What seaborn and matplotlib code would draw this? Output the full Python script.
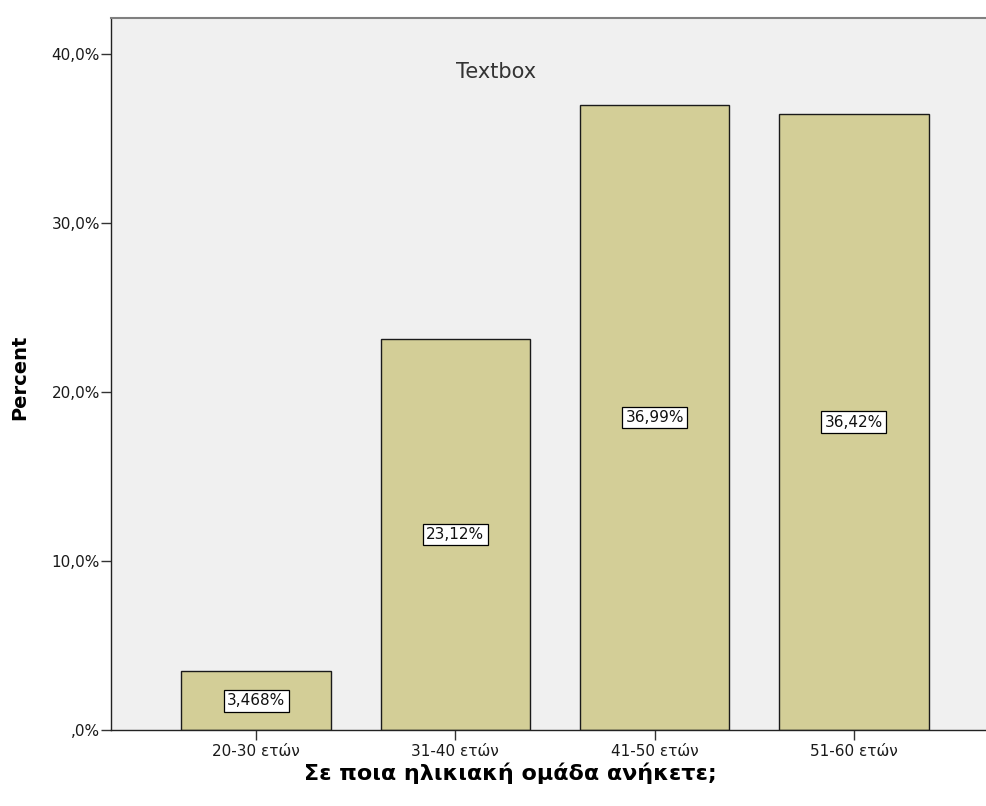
import matplotlib
matplotlib.use("Agg")
import matplotlib.pyplot as plt
import seaborn as sns
import pandas as pd

age_groups = ["20-30 ετών", "31-40 ετών", "41-50 ετών", "51-60 ετών"]
percent = [3.468, 23.12, 36.99, 36.42]
value_labels = ["3,468%", "23,12%", "36,99%", "36,42%"]
y_ticks = [0, 10, 20, 30, 40]
y_tick_labels = [",0%", "10,0%", "20,0%", "30,0%", "40,0%"]

sns.set_theme(style="white")
plt.rcParams["font.family"] = ["DejaVu Sans"]

df = pd.DataFrame({"group": age_groups, "percent": percent})

fig = plt.figure(figsize=(9.86, 8.06), dpi=100)
ax = fig.add_axes([0.1126, 0.0943, 0.8874, 0.8834])
ax.set_facecolor("#F0F0F0")

sns.barplot(data=df, x="group", y="percent", color="#D3CE97", saturation=1,
            edgecolor="#1a1a1a", linewidth=1.0, width=0.75, ax=ax)

ax.set_xlim(-0.728, 3.663)
ax.set_ylim(0, 42.13)
ax.set_yticks(y_ticks)
ax.set_yticklabels(y_tick_labels)

# value labels in white boxes at the middle of each bar
for i, (v, lab) in enumerate(zip(percent, value_labels)):
    ax.text(i, v / 2, lab, ha="center", va="center", fontsize=11, color="#111111",
            bbox=dict(boxstyle="square,pad=0.22", facecolor="white",
                      edgecolor="black", linewidth=0.9))

ax.text(1.204, 38.93, "Textbox", ha="center", va="center", fontsize=15,
        color="#333333")

for side in ["left", "bottom"]:
    ax.spines[side].set_color("#222222")
    ax.spines[side].set_linewidth(1.0)
ax.spines["top"].set_color("#808080")
ax.spines["top"].set_linewidth(1.5)
ax.spines["right"].set_visible(False)

ax.tick_params(axis="y", which="major", direction="out", length=7, width=1,
               color="#333333", labelsize=11, labelcolor="#1a1a1a", pad=1,
               left=True)
ax.tick_params(axis="x", which="major", direction="out", length=7, width=1,
               color="#333333", labelsize=11, labelcolor="#1a1a1a", pad=3,
               bottom=True)

ax.set_xlabel("Σε ποια ηλικιακή ομάδα ανήκετε;", fontsize=16, fontweight="bold",
              color="black")
ax.xaxis.set_label_coords(0.456, -0.0604)
ax.xaxis.label.set_va("center")
ax.set_ylabel("Percent", fontsize=14, fontweight="bold", color="black")
ax.yaxis.set_label_coords(-0.104, 0.496)
ax.yaxis.label.set_va("center")

fig.savefig("out.png", dpi=100, facecolor="white")
